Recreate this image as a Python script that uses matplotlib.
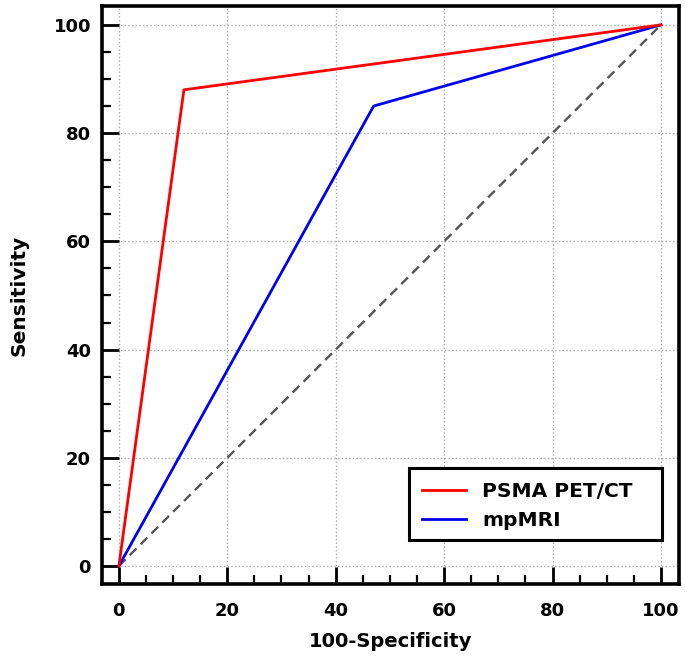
import matplotlib
matplotlib.use("Agg")
import matplotlib.pyplot as plt
from matplotlib.ticker import MultipleLocator
from matplotlib.patches import Rectangle

psma_x = [0, 12, 100]
psma_y = [0, 88, 100]
mri_x = [0, 47, 100]
mri_y = [0, 85, 100]
ref_x = [0, 100]
ref_y = [0, 100]
ticks = [0, 20, 40, 60, 80, 100]

plt.rcParams['font.family'] = ['DejaVu Sans']
plt.rcParams['font.weight'] = 'bold'

fig = plt.figure(figsize=(6.85, 6.59), dpi=100)
ax = fig.add_axes([0.149, 0.114, 0.842, 0.877])

ax.plot(ref_x, ref_y, color='#555555', linestyle='--', linewidth=1.7, dashes=(4, 2.5), zorder=2)
ax.plot(mri_x, mri_y, color='#0000ee', linewidth=2.0, label='mpMRI', zorder=3)
ax.plot(psma_x, psma_y, color='#ff0000', linewidth=2.0, label='PSMA PET/CT', zorder=4)

ax.set_xlim(-3.1, 103.3)
ax.set_ylim(-3.3, 103.5)
ax.set_xticks(ticks)
ax.set_yticks(ticks)
ax.xaxis.set_minor_locator(MultipleLocator(5))
ax.yaxis.set_minor_locator(MultipleLocator(5))
ax.tick_params(which='major', direction='in', length=12, width=2, labelsize=13, pad=13, color='black')
ax.tick_params(which='minor', direction='in', length=6.5, width=1.6, color='black')
ax.tick_params(axis='y', which='major', pad=8)
for lab in ax.get_xticklabels() + ax.get_yticklabels():
    lab.set_fontweight('bold')
ax.grid(True, which='major', linestyle=':', color='#aaaaaa', linewidth=1.0)
for sp in ax.spines.values():
    sp.set_linewidth(2.6)
    sp.set_color('black')

ax.set_xlabel('100-Specificity', fontsize=14, fontweight='bold', labelpad=9)
ax.set_ylabel('Sensitivity', fontsize=14.5, fontweight='bold', labelpad=18)

# legend frame drawn as a box in axes coordinates
frame = Rectangle((0.532, 0.0761), 0.9705 - 0.532, 0.2007 - 0.0761, transform=ax.transAxes,
                  facecolor='white', edgecolor='black', linewidth=2.2, zorder=5)
ax.add_patch(frame)

handles, labels = ax.get_legend_handles_labels()
leg = ax.legend(handles[::-1], labels[::-1], loc='upper left', bbox_to_anchor=(0.5546, 0.176),
                fontsize=14.5, frameon=False, borderpad=0, borderaxespad=0,
                handlelength=2.2, handletextpad=0.8, labelspacing=0.5)
leg.set_zorder(6)
for t in leg.get_texts():
    t.set_fontweight('bold')

fig.savefig('out.png', dpi=100)
